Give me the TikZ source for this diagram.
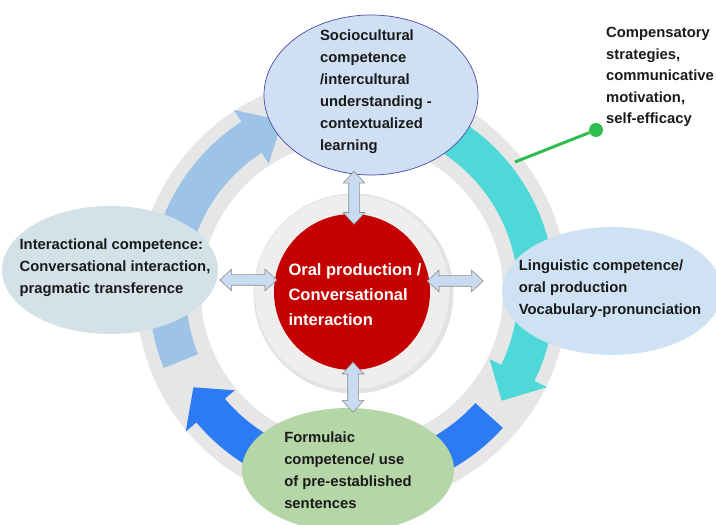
\documentclass[tikz,border=0pt]{standalone}
\usepackage{fontspec}
\setmainfont{Liberation Sans}
\usetikzlibrary{shapes.geometric,shapes.arrows,calc,positioning}
\definecolor{ringgray}{HTML}{E6E6E6}
\definecolor{halogray}{HTML}{EEEEEE}
\definecolor{lightarc}{HTML}{9DC3E6}
\definecolor{cyanarc}{HTML}{4FD8D8}
\definecolor{bluearc}{HTML}{2C7BF2}
\definecolor{oralred}{HTML}{C40000}
\definecolor{sociofill}{HTML}{CFE0F4}
\definecolor{socioedge}{HTML}{4A4AA8}
\definecolor{interfill}{HTML}{D3E1E8}
\definecolor{lingfill}{HTML}{CFE2F3}
\definecolor{formfill}{HTML}{B5D6A6}
\definecolor{arrowblue}{HTML}{C9DBF0}
\definecolor{arrowgray}{HTML}{8C8C8C}
\definecolor{dotgreen}{HTML}{2EBD4E}
\definecolor{txtblack}{HTML}{1A1A1A}
\newcommand\ringarrow[4]{\fill[#1] (#2:203pt) arc[start angle=#2,end angle=#3,radius=203pt] -- (#3:217pt) -- (#4:185pt) -- (#3:153pt) -- (#3:166pt) arc[start angle=#3,end angle=#2,radius=166pt] -- cycle;}

\begin{document}
\begin{tikzpicture}[x=1pt,y=1pt,
  bubble/.style={ellipse,inner sep=0pt},
  caption/.style={align=left,inner sep=0pt,text=txtblack,font=\bfseries\fontsize{14.8}{22}\selectfont},
  twoway/.style={double arrow,draw=arrowgray,fill=arrowblue,line width=0.6pt,inner xsep=0pt,inner ysep=5pt,minimum width=21pt,double arrow head extend=5.5pt,double arrow tip angle=85}]
\useasboundingbox (0,0) rectangle (716,525);
\clip (0,0) rectangle (716,525);
\coordinate (C) at (352,233);
\fill[ringgray,even odd rule] (C) circle[radius=216pt] (C) circle[radius=151pt];
\begin{scope}[shift={(C)}]
\ringarrow{lightarc}{202}{123}{112}
\ringarrow{cyanarc}{75}{-26}{-36}
\ringarrow{bluearc}{-42}{-140}{-149}
\end{scope}
\fill[gray!22] ($(C)+(1.5,-1.5)$) circle[radius=100pt];
\fill[halogray] (C) circle[radius=97pt];
\node [circle,fill=oralred,minimum size=156pt,inner sep=0pt] (oral) at (C) {};
\node [caption,text=white,font=\bfseries\fontsize{16.5}{25}\selectfont] (oraltext) at ($(oral)+(3,-3)$) {Oral production /\\Conversational\\interaction};
\node [bubble,fill=sociofill,draw=socioedge,line width=0.7pt,minimum width=214pt,minimum height=160pt] (socio) at (371,430) {};
\node [bubble,fill=interfill,minimum width=216pt,minimum height=128pt] (inter) at (110,255) {};
\node [bubble,fill=lingfill,minimum width=220pt,minimum height=128pt] (ling) at (612,234) {};
\node [bubble,fill=formfill,minimum width=212pt,minimum height=124pt] (form) at (348,55) {};
\node [caption] (sociotext) at ($(socio)+(5,3)$) {Sociocultural\\competence\\/intercultural\\understanding -\\contextualized\\learning};
\node [caption] (intertext) at ($(inter)+(5,2)$) {Interactional competence:\\Conversational interaction,\\pragmatic transference};
\node [caption] (lingtext) at ($(ling)+(-2,2)$) {Linguistic competence/\\oral production\\Vocabulary-pronunciation};
\node [caption] (formtext) at (form) {Formulaic\\competence/ use\\of pre-established\\sentences};
\node [twoway,rotate=90,minimum height=53pt] (uparrow) at ($(oral.north)+(2,16)$) {};
\node [twoway,rotate=90,minimum height=50pt] (downarrow) at ($(oral.south)+(1,-17)$) {};
\node [twoway,minimum height=57pt] (leftarrow) at ($(oral.west)+(-25.5,12)$) {};
\node [twoway,minimum height=56pt] (rightarrow) at ($(oral.east)+(25,11)$) {};
\coordinate (tap) at (515,363);
\node [circle,fill=dotgreen,minimum size=14pt,inner sep=0pt] (dot) at (596,395) {};
\draw [dotgreen,line width=3pt] (tap) -- (dot);
\node [caption,anchor=north west,font=\bfseries\fontsize{14.8}{21.5}\selectfont] (comp) at (606,498) {Compensatory\\strategies,\\communicative\\motivation,\\self-efficacy};
\end{tikzpicture}
\end{document}
